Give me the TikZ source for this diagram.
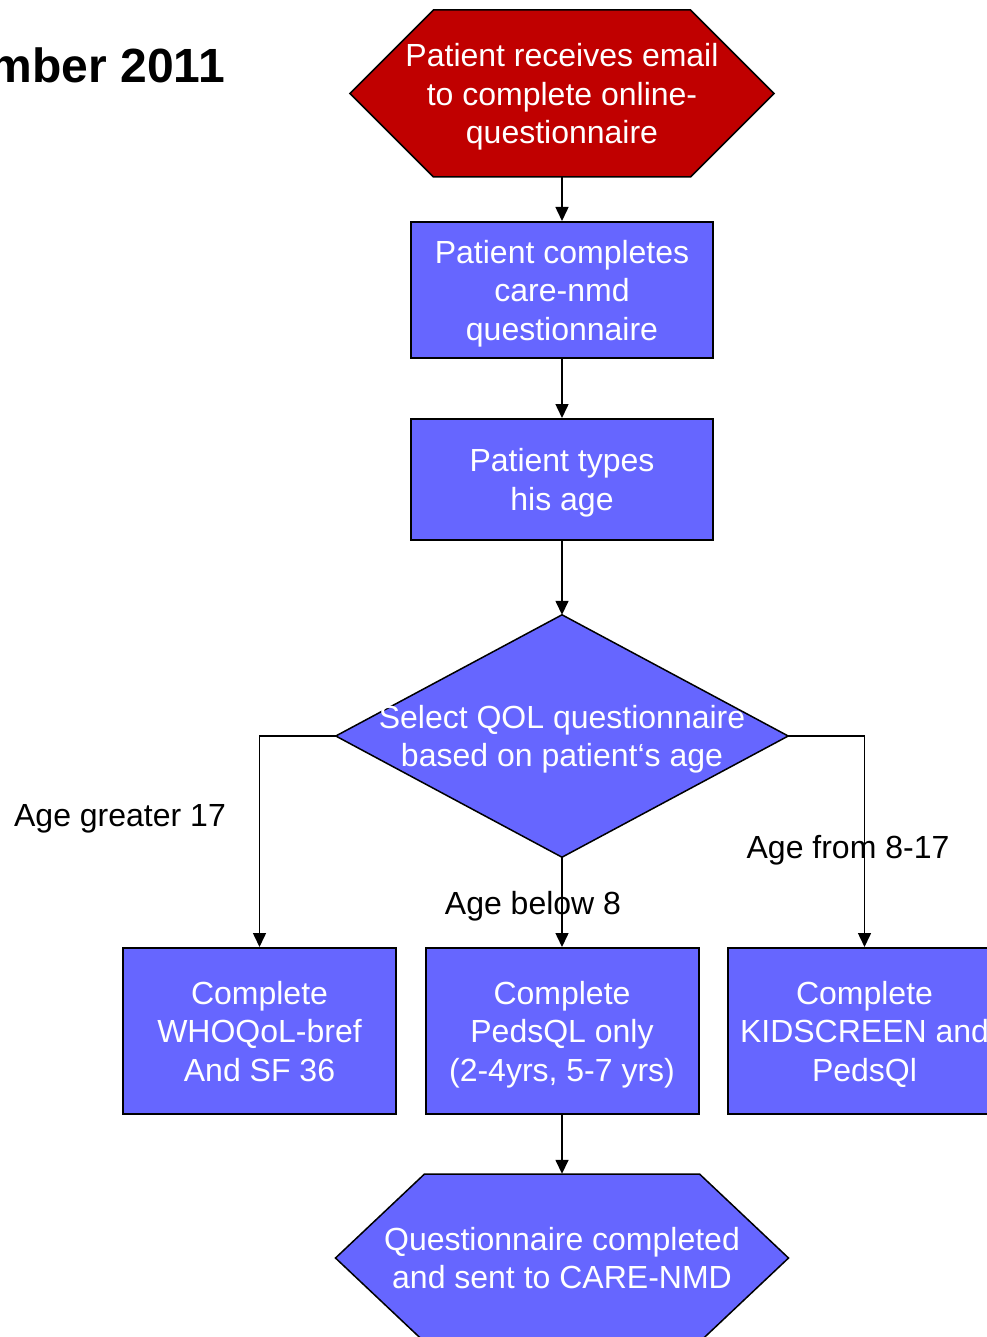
\documentclass[tikz,border=0pt]{standalone}
\usepackage{fontspec}
\setmainfont{Liberation Sans}
\usetikzlibrary{arrows.meta}
\usetikzlibrary{backgrounds}

\definecolor{flowred}{RGB}{192,0,0}
\definecolor{flowblue}{RGB}{102,102,255}

\begin{document}
\begin{tikzpicture}[x=1pt,y=-1pt,>/.tip={Triangle[width=13pt,length=14pt]},
	every node/.style={font=\fontsize{32}{38.5}\selectfont,align=center,inner sep=0pt,text depth=0pt},
	box/.style={draw,line width=2pt,fill=flowblue,text=white,minimum width=273pt,minimum height=166pt},
	shapetext/.style={text=white},
	outline/.style={draw,line width=1.5pt}]
\useasboundingbox (0,0) rectangle (986,1337);
\draw (225,65) node[anchor=east,font=\fontsize{48}{50}\selectfont\bfseries] (title) {mber 2011};
% start and end
\draw (562,93.5) node[shapetext,minimum height=167pt] (email) {Patient receives email\\to complete online-\\questionnaire};
\draw (562,1258) node[shapetext,minimum height=168pt] (done) {Questionnaire completed\\and sent to CARE-NMD};
\draw (562,736) node[shapetext,minimum width=452pt,minimum height=242pt] (select) {Select QOL questionnaire\\based on patient‘s age};
\begin{scope}[on background layer]
	\draw[outline,fill=flowred] (email.center) ++(-128.5,-83.5) -- ++(257,0) -- ++(83.5,83.5) -- ++(-83.5,83.5) -- ++(-257,0) -- ++(-83.5,-83.5) -- cycle;
	\draw[outline,fill=flowblue] (done.center) ++(-137.5,-84) -- ++(275,0) -- ++(89,84) -- ++(-89,84) -- ++(-275,0) -- ++(-89,-84) -- cycle;
	\draw[outline,fill=flowblue] (select.north) -- (select.east) -- (select.south) -- (select.west) -- cycle;
\end{scope}
\draw (562,290) node[box,minimum width=302pt,minimum height=136pt] (care) {Patient completes\\care-nmd\\questionnaire};
\draw (562,479.5) node[box,minimum width=302pt,minimum height=121pt] (age) {Patient types\\his age};
\foreach \n/\x/\t in {adult/259.5/{Complete\\WHOQoL-bref\\And SF 36},child/562/{Complete\\PedsQL only\\(2-4yrs, 5-7 yrs)},teen/864.5/{Complete\\KIDSCREEN and\\PedsQl}} {
	\draw (\x,1031) node[box] (\n) {\t};
}
\draw[outline,->] (email.south) -- (care.north);
\draw[outline,->] (care) -- (age);
\draw[outline,->] (age) -- (select.north);
\draw[outline,->] (select.west) -| (adult.north);
\draw[outline,->] (select.east) -| (teen.north);
\draw[outline,->] (select.south) -- (child.north);
\draw[outline,->] (child) -- (done.north);
% branch labels
\draw (120,815) node (gt) {Age greater 17};
\draw (848,847) node (mid) {Age from 8-17};
\draw (533,903) node (lt) {Age below 8};
\end{tikzpicture}
\end{document}
